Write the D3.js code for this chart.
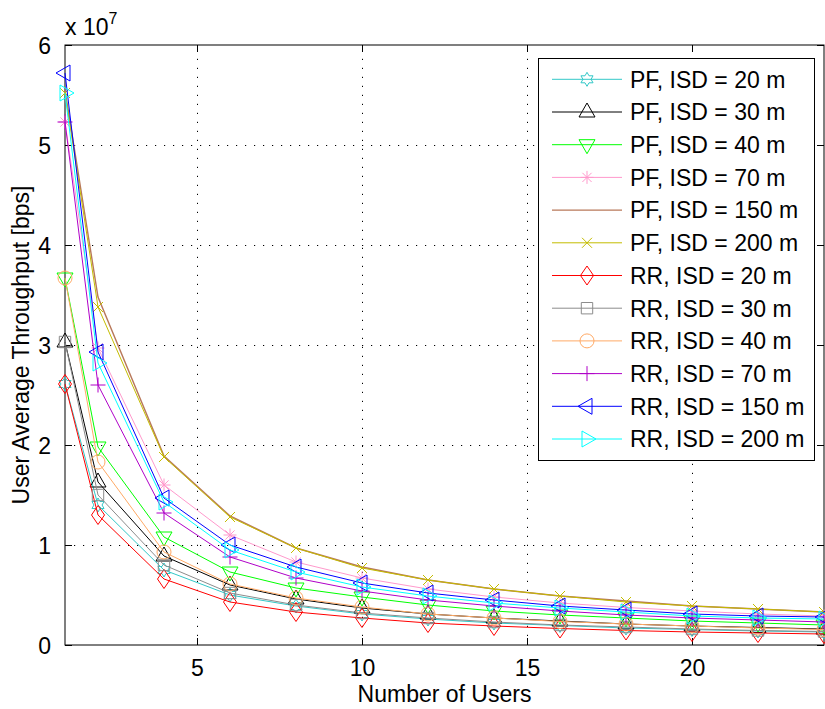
<!DOCTYPE html>
<html>
<head>
<meta charset="utf-8">
<script src="https://cdn.jsdelivr.net/npm/d3@7"></script>
<style>
    html, body { margin: 0; padding: 0; background: #fff; }
    svg { display: block; font-family: "Liberation Sans", Arial, sans-serif; }
</style>
</head>
<body>
<div id="chart"></div>
<script>
// Throughput vs number of users, PF and RR schedulers (values in units of 1e7 bps)

var users = [1, 2, 4, 6, 8, 10, 12, 14, 16, 18, 20, 22, 24];

var pf20  = [2.61, 1.40, 0.75, 0.50, 0.39, 0.31, 0.26, 0.22, 0.195, 0.17, 0.155, 0.14, 0.13];
var pf30  = [3.03, 1.63, 0.89, 0.60, 0.46, 0.37, 0.31, 0.27, 0.24, 0.21, 0.19, 0.175, 0.16];
var pf40  = [3.67, 1.98, 1.08, 0.73, 0.57, 0.48, 0.40, 0.34, 0.30, 0.27, 0.24, 0.22, 0.20];
var pf70  = [5.23, 2.97, 1.60, 1.10, 0.83, 0.67, 0.56, 0.48, 0.42, 0.375, 0.34, 0.31, 0.29];
var pf150 = [5.55, 3.48, 1.89, 1.29, 0.97, 0.78, 0.65, 0.56, 0.49, 0.44, 0.39, 0.36, 0.33];
var pf200 = [5.52, 3.38, 1.88, 1.28, 0.97, 0.77, 0.65, 0.56, 0.49, 0.43, 0.39, 0.36, 0.33];
var rr20  = [2.61, 1.30, 0.66, 0.43, 0.33, 0.27, 0.22, 0.19, 0.165, 0.145, 0.13, 0.12, 0.11];
var rr30  = [3.03, 1.50, 0.80, 0.52, 0.40, 0.32, 0.27, 0.23, 0.20, 0.18, 0.16, 0.145, 0.135];
var rr40  = [3.67, 1.83, 0.93, 0.61, 0.47, 0.38, 0.31, 0.27, 0.235, 0.21, 0.19, 0.17, 0.155];
var rr70  = [5.23, 2.60, 1.32, 0.88, 0.67, 0.54, 0.45, 0.39, 0.34, 0.30, 0.27, 0.25, 0.23];
var rr150 = [5.72, 2.93, 1.47, 1.00, 0.78, 0.62, 0.52, 0.45, 0.39, 0.35, 0.31, 0.29, 0.28];
var rr200 = [5.52, 2.82, 1.43, 0.95, 0.73, 0.58, 0.49, 0.42, 0.37, 0.33, 0.29, 0.27, 0.26];

var seriesNames = [
    'PF, ISD = 20 m', 'PF, ISD = 30 m', 'PF, ISD = 40 m', 'PF, ISD = 70 m',
    'PF, ISD = 150 m', 'PF, ISD = 200 m',
    'RR, ISD = 20 m', 'RR, ISD = 30 m', 'RR, ISD = 40 m', 'RR, ISD = 70 m',
    'RR, ISD = 150 m', 'RR, ISD = 200 m'
];
var seriesValues = [pf20, pf30, pf40, pf70, pf150, pf200, rr20, rr30, rr40, rr70, rr150, rr200];
var seriesColors = ['#33c8c8', '#000000', '#00ff00', '#ff99cc', '#b8785a', '#c4bc00',
                    '#ff0000', '#8c8c8c', '#ffaa66', '#b000c8', '#0000ff', '#00ffff'];
var seriesMarkers = ['hexagram', 'triUp', 'triDown', 'asterisk', 'none', 'x',
                     'diamond', 'square', 'circle', 'plus', 'triLeft', 'triRight'];

var xTicks = [5, 10, 15, 20];
var yTicks = [0, 1, 2, 3, 4, 5, 6];

var width = 825, height = 709;
var margin = { top: 45, right: 1, bottom: 64, left: 65 };
var FONT = 23;

// ============================================================================
// MARKERS
// ============================================================================

function markerPath(type) {
    if (type === 'triUp') return 'M0,-9L8,5L-8,5Z';
    if (type === 'triDown') return 'M0,9L8,-5L-8,-5Z';
    if (type === 'triLeft') return 'M-9,0L5,-8L5,8Z';
    if (type === 'triRight') return 'M9,0L-5,-8L-5,8Z';
    if (type === 'diamond') return 'M0,-9.5L6.5,0L0,9.5L-6.5,0Z';
    if (type === 'square') return 'M-5.7,-5.7H5.7V5.7H-5.7Z';
    if (type === 'circle') return 'M7,0A7,7 0 1,1 -7,0A7,7 0 1,1 7,0Z';
    if (type === 'x') return 'M-5,-5L5,5M-5,5L5,-5';
    if (type === 'plus') return 'M0,-7.5V7.5M-7.5,0H7.5';
    if (type === 'asterisk') return 'M0,-6.5V6.5M-6.5,0H6.5M-4.6,-4.6L4.6,4.6M-4.6,4.6L4.6,-4.6';
    if (type === 'hexagram') {
        var pts = [];
        for (var k = 0; k < 12; k++) {
            var r = k % 2 === 0 ? 7 : 4.04;
            var a = (-90 + k * 30) * Math.PI / 180;
            pts.push([r * Math.cos(a), r * Math.sin(a)]);
        }
        return 'M' + pts.map(function(p) { return p[0].toFixed(2) + ',' + p[1].toFixed(2); }).join('L') + 'Z';
    }
    return '';
}

// ============================================================================
// CHART
// ============================================================================

var svg = d3.select('#chart').append('svg')
    .attr('width', width)
    .attr('height', height);

var x = d3.scaleLinear().domain([1, 24]).range([margin.left, width - margin.right]);
var y = d3.scaleLinear().domain([0, 6]).range([height - margin.bottom, margin.top]);

var x0 = x.range()[0], x1 = x.range()[1];
var y0 = y.range()[0], y1 = y.range()[1];

// Grid (dotted)
var grid = svg.append('g').attr('stroke', '#000').attr('stroke-width', 1)
    .attr('stroke-dasharray', '1.2,7.8');
xTicks.forEach(function(t) {
    grid.append('line').attr('x1', Math.round(x(t)) + 0.5).attr('x2', Math.round(x(t)) + 0.5)
        .attr('y1', y0).attr('y2', y1);
});
yTicks.slice(1, -1).forEach(function(t) {
    grid.append('line').attr('y1', Math.round(y(t)) + 0.5).attr('y2', Math.round(y(t)) + 0.5)
        .attr('x1', x0).attr('x2', x1);
});

// Axes (ticks inward, box on)
var tickLen = 7;
var fmt = d3.format('d');
var axisB = svg.append('g').attr('transform', 'translate(0,' + y0 + ')')
    .call(d3.axisBottom(x).tickValues(xTicks).tickSize(-tickLen).tickPadding(tickLen + 8).tickFormat(fmt));
var axisT = svg.append('g').attr('transform', 'translate(0,' + y1 + ')')
    .call(d3.axisTop(x).tickValues(xTicks).tickSize(-tickLen).tickFormat(''));
var axisL = svg.append('g').attr('transform', 'translate(' + x0 + ',0)')
    .call(d3.axisLeft(y).tickValues(yTicks).tickSize(-tickLen).tickPadding(tickLen + 7).tickFormat(fmt));
var axisR = svg.append('g').attr('transform', 'translate(' + x1 + ',0)')
    .call(d3.axisRight(y).tickValues(yTicks).tickSize(-tickLen).tickFormat(''));

[axisB, axisT, axisL, axisR].forEach(function(g) {
    g.select('.domain').remove();
    g.selectAll('line').attr('stroke', '#000');
    g.selectAll('text').attr('fill', '#000').style('font-size', FONT + 'px')
        .style('font-family', '"Liberation Sans", Arial, sans-serif');
});
axisB.selectAll('text').attr('dy', '0.71em');
axisL.selectAll('text').attr('dy', '0.36em');

svg.append('rect')
    .attr('x', x0).attr('y', y1)
    .attr('width', x1 - x0).attr('height', y0 - y1)
    .attr('fill', 'none').attr('stroke', '#000').attr('stroke-width', 1);

// Series
var line = d3.line()
    .x(function(d, i) { return x(users[i]); })
    .y(function(d) { return y(d); });

seriesValues.forEach(function(vals, si) {
    var g = svg.append('g');
    g.append('path')
        .datum(vals)
        .attr('d', line)
        .attr('fill', 'none')
        .attr('stroke', seriesColors[si])
        .attr('stroke-width', si === 4 ? 1.4 : 1);
    if (seriesMarkers[si] !== 'none') {
        g.selectAll('path.mk')
            .data(vals)
            .join('path')
            .attr('class', 'mk')
            .attr('transform', function(d, i) { return 'translate(' + x(users[i]) + ',' + y(d) + ')'; })
            .attr('d', markerPath(seriesMarkers[si]))
            .attr('fill', 'none')
            .attr('stroke', seriesColors[si])
            .attr('stroke-width', 1);
    }
});

// Exponent label
var expo = svg.append('text')
    .attr('x', x0)
    .attr('y', 34.5)
    .style('font-size', FONT + 'px')
    .attr('fill', '#000');
expo.append('tspan').text('x 10');
expo.append('tspan').attr('dy', -11).style('font-size', '16px').text('7');

// Axis titles
svg.append('text')
    .attr('x', (x0 + x1) / 2)
    .attr('y', 702)
    .attr('text-anchor', 'middle')
    .style('font-size', FONT + 'px')
    .text('Number of Users');

svg.append('text')
    .attr('transform', 'translate(28.5,' + ((y0 + y1) / 2) + ') rotate(-90)')
    .attr('text-anchor', 'middle')
    .style('font-size', FONT + 'px')
    .text('User Average Throughput [bps]');

// ============================================================================
// LEGEND
// ============================================================================

var legend = svg.append('g');
legend.append('rect')
    .attr('x', 538.5).attr('y', 58.5)
    .attr('width', 276).attr('height', 402)
    .attr('fill', '#fff').attr('stroke', '#000').attr('stroke-width', 1);

var legendY = d3.scalePoint().domain(seriesNames).range([79.3, 439]);

seriesNames.forEach(function(name, si) {
    var cy = legendY(name);
    legend.append('line')
        .attr('x1', 552).attr('x2', 622)
        .attr('y1', cy).attr('y2', cy)
        .attr('stroke', seriesColors[si])
        .attr('stroke-width', si === 4 ? 1.4 : 1);
    if (seriesMarkers[si] !== 'none') {
        legend.append('path')
            .attr('transform', 'translate(587,' + cy + ')')
            .attr('d', markerPath(seriesMarkers[si]))
            .attr('fill', 'none')
            .attr('stroke', seriesColors[si]);
    }
    legend.append('text')
        .attr('x', 630)
        .attr('y', cy + 8.3)
        .style('font-size', FONT + 'px')
        .text(name);
});
</script>
</body>
</html>
